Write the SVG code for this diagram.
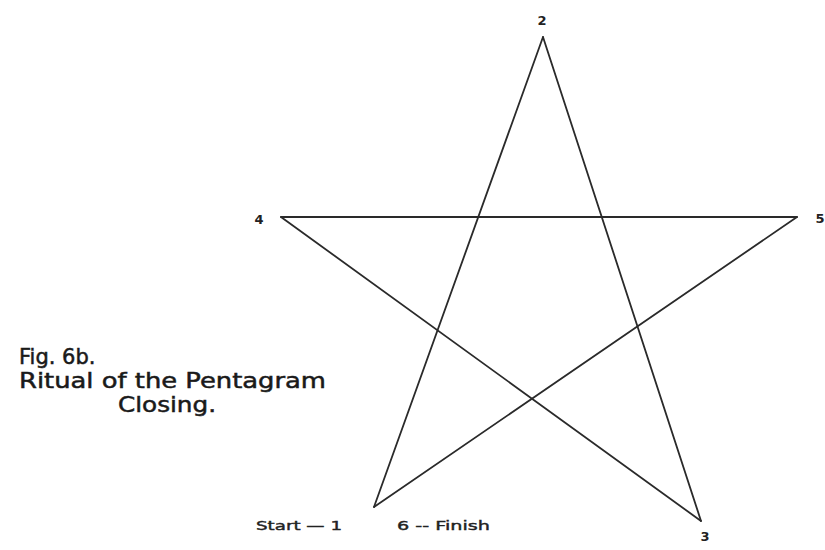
<svg xmlns="http://www.w3.org/2000/svg" width="825" height="550" viewBox="0 0 825 550">
<style>
.edge{fill:none;stroke:#2a2a2a;stroke-width:1.8;stroke-linecap:round}
.lbl{font-family:"DejaVu Sans","Liberation Sans",sans-serif;font-size:13px;fill:#222;font-weight:bold}
.sub{font-family:"DejaVu Sans","Liberation Sans",sans-serif;font-size:13px;fill:#222;stroke:#222;stroke-width:0.4}
.cap{font-family:"DejaVu Sans","Liberation Sans",sans-serif;font-size:21px;fill:#1a1a1a;stroke:#1a1a1a;stroke-width:0.5}
</style>
<rect width="825" height="550" fill="#ffffff"/>
<g id="connectors">
<line class="edge" x1="374" y1="507" x2="543" y2="37"/>
<line class="edge" x1="543" y1="37" x2="701" y2="521"/>
<line class="edge" x1="701" y1="521" x2="281" y2="217"/>
<line class="edge" x1="281" y1="217" x2="797" y2="217"/>
<line class="edge" x1="797" y1="217" x2="374" y2="507"/>
</g>
<g id="node-2"><text class="lbl" x="542" y="25" text-anchor="middle">2</text></g>
<g id="node-4"><text class="lbl" x="259" y="224" text-anchor="middle">4</text></g>
<g id="node-5"><text class="lbl" x="820" y="223" text-anchor="middle">5</text></g>
<g id="node-3"><text class="lbl" x="705" y="541" text-anchor="middle">3</text></g>
<g id="node-1"><text class="sub" x="256" y="530" textLength="86" lengthAdjust="spacingAndGlyphs">Start — 1</text></g>
<g id="node-6"><text class="sub" x="397" y="530" textLength="93" lengthAdjust="spacingAndGlyphs">6 -- Finish</text></g>
<g id="caption">
<text class="cap" x="19" y="364">Fig. 6b.</text>
<text class="cap" x="19" y="388" textLength="307" lengthAdjust="spacingAndGlyphs">Ritual of the Pentagram</text>
<text class="cap" x="118" y="412" textLength="98" lengthAdjust="spacingAndGlyphs">Closing.</text>
</g>
</svg>
